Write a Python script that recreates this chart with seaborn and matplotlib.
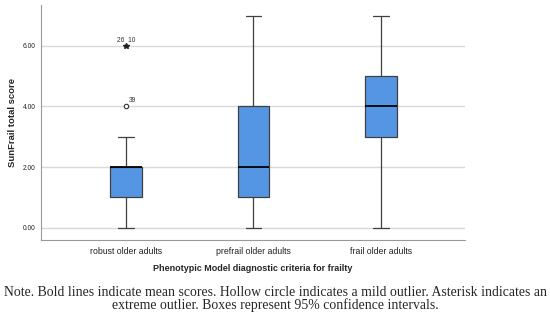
import numpy as np
import pandas as pd
import seaborn as sns
import matplotlib.pyplot as plt

# groups and five-number summaries
groups = ["robust older adults", "prefrail older adults", "frail older adults"]
whisker_low = [0, 0, 0]
q1 = [1, 1, 3]
median = [2, 2, 4]
q3 = [2, 4, 5]
whisker_high = [3, 7, 7]

# outliers (robust group only)
outlier_group = ["robust older adults", "robust older adults"]
outlier_value = [4, 6]
outlier_label = ["39", "26  10"]
outlier_kind = ["mild", "extreme"]

note_lines = ["Note. Bold lines indicate mean scores. Hollow circle indicates a mild outlier. Asterisk indicates an",
              "extreme outlier. Boxes represent 95% confidence intervals."]

rows = []
for i, g in enumerate(groups):
    for v in (whisker_low[i], q1[i], median[i], q3[i], whisker_high[i]):
        rows.append({"group": g, "score": v})
df = pd.DataFrame(rows)

sns.set_style("white")
plt.rcParams['font.family'] = ['Liberation Sans', 'DejaVu Sans']
fig = plt.figure(figsize=(5.5, 3.26), dpi=100)
ax = fig.add_axes([0.0745, 0.264, 0.7705, 0.721])

sns.boxplot(data=df, x="group", y="score", order=groups, whis=np.inf, width=0.25,
            color="#5596e4", saturation=1, linewidth=0.9, linecolor="#404040",
            medianprops={"color": "black", "linewidth": 1.3},
            capprops={"color": "#404040"}, whiskerprops={"color": "#404040"},
            ax=ax, zorder=3)

for g, v, lab, kind in zip(outlier_group, outlier_value, outlier_label, outlier_kind):
    xi = groups.index(g)
    if kind == "mild":
        ax.plot(xi, v, marker="o", ms=3.2, mfc="white", mec="#333333", mew=0.8, zorder=4)
        ax.annotate(lab, (xi, v), xytext=(2, 3), textcoords="offset points",
                    fontsize=4.8, color="#333333")
    else:
        ax.plot(xi, v, marker="*", ms=4, color="#222222", zorder=4)
        ax.annotate(lab, (xi, v), xytext=(0, 3), textcoords="offset points",
                    fontsize=4.8, color="#333333", ha="center")

ax.set_xlim(-0.67, 2.66)
ax.set_ylim(-0.4, 7.35)
ax.set_yticks([0, 2, 4, 6])
ax.set_yticklabels(["0.00", "2.00", "4.00", "6.00"], fontsize=4.8)
ax.tick_params(axis="x", labelsize=6.3, length=0, pad=5, colors="#222222")
ax.tick_params(axis="y", length=0, pad=4, colors="#222222")
ax.yaxis.grid(True, color="#d9d9d9", linewidth=1)
ax.set_axisbelow(True)
for s in ["top", "right"]:
    ax.spines[s].set_visible(False)
for s in ["left", "bottom"]:
    ax.spines[s].set_color("#999999")
    ax.spines[s].set_linewidth(0.8)

ax.set_xlabel("Phenotypic Model diagnostic criteria for frailty", fontsize=6.5,
              fontweight="bold", labelpad=6)
ax.set_ylabel("SunFrail total score", fontsize=6.8, fontweight="bold", labelpad=4)

fig.text(0.5, 1 - 293 / 326, note_lines[0], ha="center", va="center", fontsize=9.9,
         family="Liberation Serif")
fig.text(0.5, 1 - 305.5 / 326, note_lines[1], ha="center", va="center", fontsize=9.9,
         family="Liberation Serif")

fig.savefig("out.png", dpi=100)
